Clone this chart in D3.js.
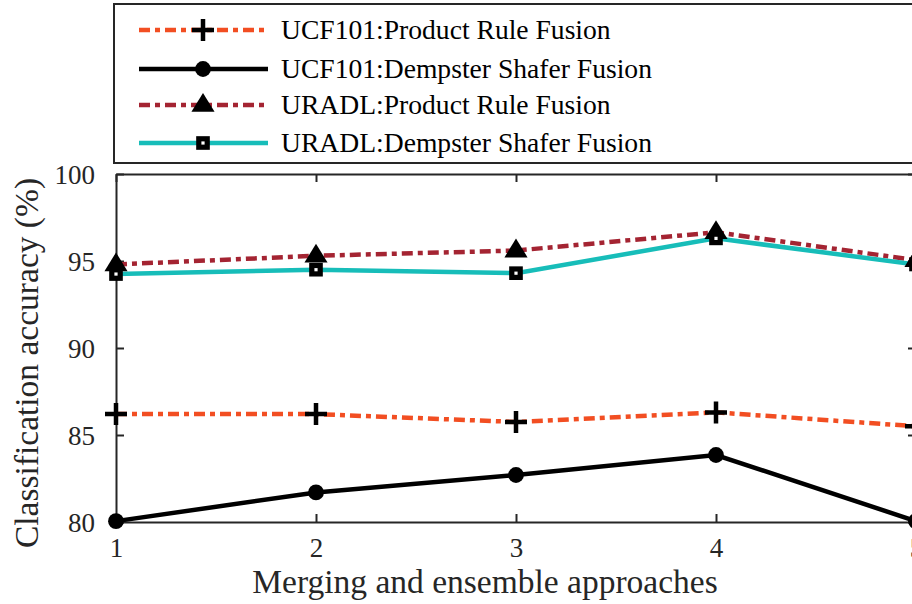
<!DOCTYPE html>
<html>
<head>
<meta charset="utf-8">
<script src="https://cdn.jsdelivr.net/npm/d3@7"></script>
<style>
  body { margin: 0; background: #fff; }
  svg { display: block; overflow: hidden; }
  svg text { font-family: 'Liberation Serif', 'Times New Roman', Times, serif; }
</style>
</head>
<body>
<svg width="912" height="604"></svg>
<script>
// data
const approaches = [1, 2, 3, 4, 5];
const ucfProduct = [86.2, 86.2, 85.75, 86.3, 85.5];
const ucfDS = [80.05, 81.7, 82.7, 83.85, 80.05];
const uradlProduct = [94.8, 95.3, 95.6, 96.65, 95.05];
const uradlDS = [94.25, 94.5, 94.3, 96.3, 94.8];
const yTicks = [80, 85, 90, 95, 100];
const seriesNames = ["UCF101:Product Rule Fusion", "UCF101:Dempster Shafer Fusion",
  "URADL:Product Rule Fusion", "URADL:Dempster Shafer Fusion"];

// margin convention
let margin = { top: 174, right: -4, bottom: 82, left: 116 };
let width = 912 - margin.left - margin.right,
    height = 604 - margin.top - margin.bottom;

let svg = d3.select('svg');
let g = svg.append('g')
  .attr('transform', `translate(${margin.left},${margin.top})`);

// scales
let xScale = d3.scaleLinear().domain([1, 5]).range([0, width]);
let yScale = d3.scaleLinear().domain([80, 100]).range([height, 0]);

// series styles
let series = [
  { values: ucfProduct, color: '#f24e22', dash: '11,5,5,5', marker: 'plus' },
  { values: ucfDS, color: '#000000', dash: null, marker: 'circle' },
  { values: uradlProduct, color: '#a42432', dash: '11,5,5,5', marker: 'triangle' },
  { values: uradlDS, color: '#17bdb9', dash: null, marker: 'square' }
];

// axes (MATLAB box with inward ticks)
let axisColor = '#262626';
let xAxis = g.append('g')
  .attr('transform', `translate(0,${height})`)
  .call(d3.axisBottom(xScale).tickValues(approaches).tickSizeInner(-8).tickSizeOuter(0).tickPadding(16).tickFormat(d3.format('d')));
let xTop = g.append('g')
  .call(d3.axisTop(xScale).tickValues(approaches).tickSizeInner(-8).tickSizeOuter(0).tickFormat(''));
let yAxis = g.append('g')
  .call(d3.axisLeft(yScale).tickValues(yTicks).tickSizeInner(-8).tickSizeOuter(0).tickPadding(21));
let yRight = g.append('g')
  .attr('transform', `translate(${width},0)`)
  .call(d3.axisRight(yScale).tickValues(yTicks).tickSizeInner(-8).tickSizeOuter(0).tickFormat(''));

[xAxis, xTop, yAxis, yRight].forEach(a => {
  a.attr('font-family', null).attr('font-size', null);
  a.selectAll('path').attr('stroke', axisColor).attr('stroke-width', 2);
  a.selectAll('line').attr('stroke', axisColor).attr('stroke-width', 2);
  a.selectAll('text').attr('fill', axisColor).style('font-size', '27px');
});
yAxis.selectAll('text').attr('dy', '0.34em');
xAxis.selectAll('text').attr('dy', '0.72em');

// lines
let line = d3.line()
  .x((d, i) => xScale(approaches[i]))
  .y(d => yScale(d));

function drawMarker(sel, type, size) {
  if (type === 'plus') {
    sel.append('path')
      .attr('d', `M${-size},0H${size}M0,${-size}V${size}`)
      .attr('stroke', '#000').attr('stroke-width', 4.5).attr('fill', 'none');
  } else if (type === 'circle') {
    sel.append('circle').attr('r', size * 0.72).attr('fill', '#000');
  } else if (type === 'triangle') {
    sel.append('path')
      .attr('d', `M0,${-size * 1.1}L${size * 1.05},${size * 0.62}L${-size * 1.05},${size * 0.62}Z`)
      .attr('fill', '#000');
  } else if (type === 'square') {
    sel.append('rect').attr('x', -size * 0.62).attr('y', -size * 0.62)
      .attr('width', size * 1.24).attr('height', size * 1.24).attr('fill', '#000');
    sel.append('rect').attr('x', -1.6).attr('y', -1.6).attr('width', 3.2).attr('height', 3.2).attr('fill', '#fff');
  }
}

series.forEach(s => {
  g.append('path')
    .datum(s.values)
    .attr('d', line)
    .attr('fill', 'none')
    .attr('stroke', s.color)
    .attr('stroke-width', 4.5)
    .attr('stroke-dasharray', s.dash);
});
series.forEach(s => {
  g.append('g').selectAll('g')
    .data(s.values)
    .enter()
    .append('g')
      .attr('transform', (d, i) => `translate(${xScale(approaches[i])},${yScale(d)})`)
      .each(function () { drawMarker(d3.select(this), s.marker, 11); });
});

// axis titles
svg.append('text')
  .attr('x', 485)
  .attr('y', 593)
  .attr('text-anchor', 'middle')
  .attr('fill', axisColor)
  .style('font-size', '33.5px')
  .text('Merging and ensemble approaches');
svg.append('text')
  .attr('transform', `translate(38,363) rotate(-90)`)
  .attr('text-anchor', 'middle')
  .attr('fill', axisColor)
  .style('font-size', '33.5px')
  .text('Classification accuracy (%)');

// legend
let legend = svg.append('g');
legend.append('rect')
  .attr('x', 114).attr('y', 4).attr('width', 820).attr('height', 159)
  .attr('fill', '#fff').attr('stroke', axisColor).attr('stroke-width', 2);
let rowY = [30, 69, 105, 143];
series.forEach((s, i) => {
  let row = legend.append('g').attr('transform', `translate(0,${rowY[i]})`);
  row.append('line')
    .attr('x1', 139).attr('x2', 268)
    .attr('stroke', s.color).attr('stroke-width', 4.5)
    .attr('stroke-dasharray', s.dash);
  drawMarker(row.append('g').attr('transform', 'translate(203,0)'), s.marker, 11);
  row.append('text')
    .attr('x', 281).attr('dy', '0.33em')
    .attr('fill', '#000')
    .style('font-size', '27.6px')
    .text(seriesNames[i]);
});
</script>
</body>
</html>
